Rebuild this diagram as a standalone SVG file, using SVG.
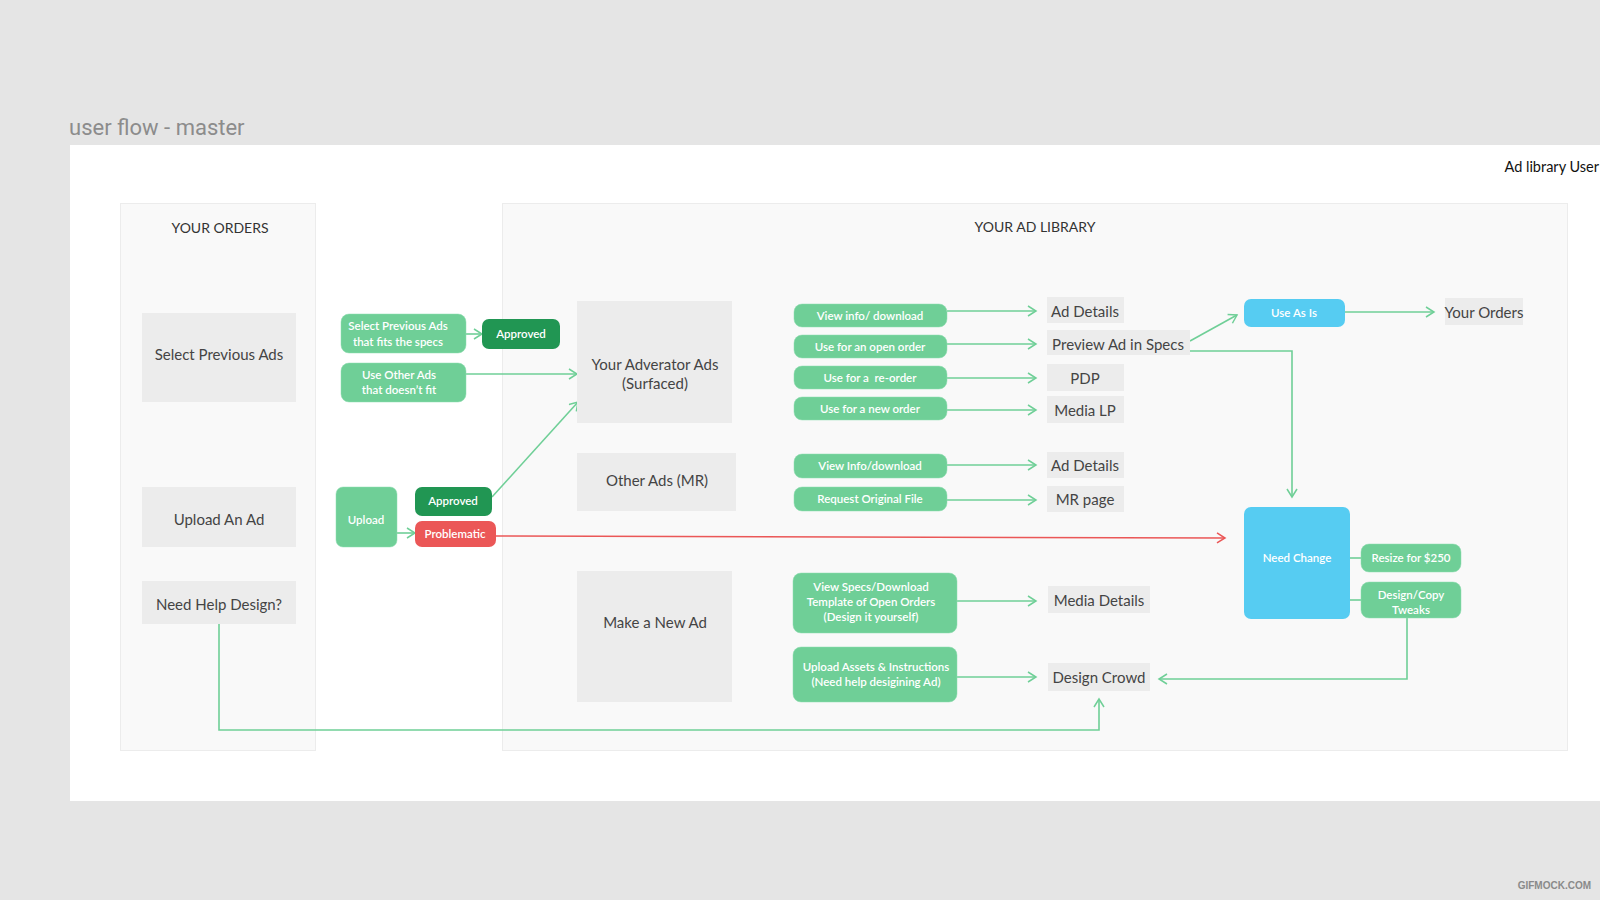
<svg xmlns="http://www.w3.org/2000/svg" width="1600" height="900" viewBox="0 0 1600 900">
<defs>
<marker id="ag" markerWidth="12" markerHeight="12" refX="10" refY="6" orient="auto" markerUnits="userSpaceOnUse"><path d="M2,1 L10,6 L2,11" fill="none" stroke="#6fcf97" stroke-width="1.5"/></marker>
<marker id="ar" markerWidth="12" markerHeight="12" refX="10" refY="6" orient="auto" markerUnits="userSpaceOnUse"><path d="M2,1 L10,6 L2,11" fill="none" stroke="#eb5757" stroke-width="1.5"/></marker>
<style>
text{font-family:Lato,"Open Sans","Liberation Sans",sans-serif}
.box{fill:#ececec}
.bt{font-size:15px;fill:#444;text-anchor:middle}
.pill{fill:#6fcf97;stroke:#8fdcb0;stroke-width:0.5}
.dk{fill:#219653}
.red{fill:#eb5757}
.blue{fill:#56ccf2}
.pt{font-size:11.5px;fill:#fff;text-anchor:middle;font-weight:600}
.ln{fill:none;stroke:#6fcf97;stroke-width:1.6}
.panel{fill:#f9f9f9;stroke:#ececec;stroke-width:1}
.hd{font-size:14px;fill:#333;text-anchor:middle}
</style>
</defs>
<rect width="1600" height="900" fill="#e5e5e5"/>
<text x="69" y="135" font-size="22" fill="#8c8c8c" style="font-family:Roboto,'Liberation Sans',sans-serif">user flow - master</text>
<rect x="70" y="145" width="1530" height="656" fill="#fff"/>
<text x="1599" y="172" font-size="14.5" fill="#111" text-anchor="end">Ad library User</text>

<g id="panel-orders"><rect class="panel" x="120.5" y="203.5" width="195" height="547"/><text class="hd" x="220" y="233">YOUR ORDERS</text></g>
<g id="panel-library"><rect class="panel" x="502.5" y="203.5" width="1065" height="547"/><text class="hd" x="1035" y="232">YOUR AD LIBRARY</text></g>

<g id="connectors">
<line class="ln" x1="466" y1="334" x2="482" y2="334" marker-end="url(#ag)"/>
<line class="ln" x1="466" y1="374" x2="577" y2="374" marker-end="url(#ag)"/>
<line class="ln" x1="492" y1="497" x2="578" y2="402" marker-end="url(#ag)"/>
<line class="ln" x1="397" y1="533" x2="415" y2="533" marker-end="url(#ag)"/>
<line x1="496" y1="536" x2="1225" y2="538" fill="none" stroke="#eb5757" stroke-width="1.4" marker-end="url(#ar)"/>
<line class="ln" x1="947" y1="311" x2="1036" y2="311" marker-end="url(#ag)"/>
<line class="ln" x1="947" y1="344" x2="1036" y2="344" marker-end="url(#ag)"/>
<line class="ln" x1="947" y1="378" x2="1036" y2="378" marker-end="url(#ag)"/>
<line class="ln" x1="947" y1="410" x2="1036" y2="410" marker-end="url(#ag)"/>
<line class="ln" x1="947" y1="465" x2="1036" y2="465" marker-end="url(#ag)"/>
<line class="ln" x1="947" y1="500" x2="1036" y2="500" marker-end="url(#ag)"/>
<line class="ln" x1="957" y1="601" x2="1036" y2="601" marker-end="url(#ag)"/>
<line class="ln" x1="957" y1="677" x2="1036" y2="677" marker-end="url(#ag)"/>
<line class="ln" x1="1190" y1="341" x2="1237" y2="315" marker-end="url(#ag)"/>
<line class="ln" x1="1345" y1="312" x2="1434" y2="312" marker-end="url(#ag)"/>
<polyline class="ln" points="1190,351 1292,351 1292,497" marker-end="url(#ag)"/>
<line class="ln" x1="1350" y1="558" x2="1361" y2="558"/>
<line class="ln" x1="1350" y1="600" x2="1361" y2="600"/>
<polyline class="ln" points="1407,618 1407,679 1159,679" marker-end="url(#ag)"/>
<polyline class="ln" points="219,624 219,730 1099,730 1099,699" marker-end="url(#ag)"/>
</g>

<g id="n-select-prev"><rect class="box" x="142" y="313" width="154" height="89"/><text class="bt" x="219" y="360">Select Previous Ads</text></g>
<g id="n-upload-ad"><rect class="box" x="142" y="487" width="154" height="60"/><text class="bt" x="219" y="525">Upload An Ad</text></g>
<g id="n-need-help"><rect class="box" x="142" y="581" width="154" height="43"/><text class="bt" x="219" y="610">Need Help Design?</text></g>

<g id="n-select-fits"><rect class="pill" x="341" y="314" width="125" height="39" rx="8"/><text class="pt" x="398" y="330">Select Previous Ads</text><text class="pt" x="398" y="346">that fits the specs</text></g>
<g id="n-approved1"><rect class="dk" x="482" y="319" width="78" height="30" rx="7"/><text class="pt" x="521" y="338">Approved</text></g>
<g id="n-use-other"><rect class="pill" x="341" y="363" width="125" height="39" rx="8"/><text class="pt" x="399" y="379">Use Other Ads</text><text class="pt" x="399" y="394">that doesn’t fit</text></g>
<g id="n-upload"><rect class="pill" x="336" y="487" width="61" height="60" rx="7"/><text class="pt" x="366" y="524">Upload</text></g>
<g id="n-approved2"><rect class="dk" x="415" y="487" width="77" height="29" rx="7"/><text class="pt" x="453" y="505">Approved</text></g>
<g id="n-problematic"><rect class="red" x="415" y="521" width="81" height="26" rx="7"/><text class="pt" x="455" y="538">Problematic</text></g>

<g id="n-adverator"><rect class="box" x="577" y="301" width="155" height="122"/><text class="bt" x="655" y="370">Your Adverator Ads</text><text class="bt" x="655" y="389">(Surfaced)</text></g>
<g id="n-other-ads"><rect class="box" x="577" y="453" width="159" height="58"/><text class="bt" x="657" y="486">Other Ads (MR)</text></g>
<g id="n-make-new"><rect class="box" x="577" y="571" width="155" height="131"/><text class="bt" x="655" y="628">Make a New Ad</text></g>

<g id="n-view-info"><rect class="pill" x="794" y="304" width="153" height="23" rx="8"/><text class="pt" x="870" y="320">View info/ download</text></g>
<g id="n-open-order"><rect class="pill" x="794" y="335" width="153" height="23" rx="8"/><text class="pt" x="870" y="351">Use for an open order</text></g>
<g id="n-reorder"><rect class="pill" x="794" y="366" width="153" height="23" rx="8"/><text class="pt" x="870" y="382" xml:space="preserve">Use for a  re-order</text></g>
<g id="n-new-order"><rect class="pill" x="794" y="397" width="153" height="23" rx="8"/><text class="pt" x="870" y="413">Use for a new order</text></g>
<g id="n-view-info2"><rect class="pill" x="794" y="454" width="153" height="24" rx="8"/><text class="pt" x="870" y="470">View Info/download</text></g>
<g id="n-request"><rect class="pill" x="794" y="487" width="153" height="24" rx="8"/><text class="pt" x="870" y="503">Request Original File</text></g>
<g id="n-view-specs"><rect class="pill" x="793" y="573" width="164" height="60" rx="8"/><text class="pt" x="871" y="591">View Specs/Download</text><text class="pt" x="871" y="606">Template of Open Orders</text><text class="pt" x="871" y="621">(Design it yourself)</text></g>
<g id="n-upload-assets"><rect class="pill" x="793" y="647" width="164" height="55" rx="8"/><text class="pt" x="876" y="671">Upload Assets &amp; Instructions</text><text class="pt" x="876" y="686">(Need help desigining Ad)</text></g>

<g id="n-ad-details1"><rect class="box" x="1047" y="297" width="77" height="26"/><text class="bt" x="1085" y="317">Ad Details</text></g>
<g id="n-preview"><rect class="box" x="1047" y="330" width="143" height="25"/><text class="bt" x="1118" y="350">Preview Ad in Specs</text></g>
<g id="n-pdp"><rect class="box" x="1047" y="364" width="77" height="27"/><text class="bt" x="1085" y="384">PDP</text></g>
<g id="n-media-lp"><rect class="box" x="1047" y="396" width="77" height="27"/><text class="bt" x="1085" y="416">Media LP</text></g>
<g id="n-ad-details2"><rect class="box" x="1047" y="452" width="77" height="26"/><text class="bt" x="1085" y="471">Ad Details</text></g>
<g id="n-mr-page"><rect class="box" x="1047" y="486" width="77" height="26"/><text class="bt" x="1085" y="505">MR page</text></g>
<g id="n-media-details"><rect class="box" x="1048" y="586" width="102" height="27"/><text class="bt" x="1099" y="606">Media Details</text></g>
<g id="n-design-crowd"><rect class="box" x="1048" y="663" width="102" height="28"/><text class="bt" x="1099" y="683">Design Crowd</text></g>

<g id="n-use-as-is"><rect class="blue" x="1244" y="299" width="101" height="28" rx="7"/><text class="pt" x="1294" y="317">Use As Is</text></g>
<g id="n-your-orders"><rect class="box" x="1445" y="298" width="78" height="27"/><text class="bt" x="1484" y="318">Your Orders</text></g>
<g id="n-need-change"><rect class="blue" x="1244" y="507" width="106" height="112" rx="7"/><text class="pt" x="1297" y="562">Need Change</text></g>
<g id="n-resize"><rect class="pill" x="1361" y="544" width="100" height="28" rx="8"/><text class="pt" x="1411" y="562">Resize for $250</text></g>
<g id="n-tweaks"><rect class="pill" x="1361" y="582" width="100" height="36" rx="8"/><text class="pt" x="1411" y="599">Design/Copy</text><text class="pt" x="1411" y="614">Tweaks</text></g>

<text x="1591" y="889" font-size="10" font-weight="bold" fill="#8a8a8a" text-anchor="end" style="font-family:'Liberation Sans',sans-serif">GIFMOCK.COM</text>
</svg>
